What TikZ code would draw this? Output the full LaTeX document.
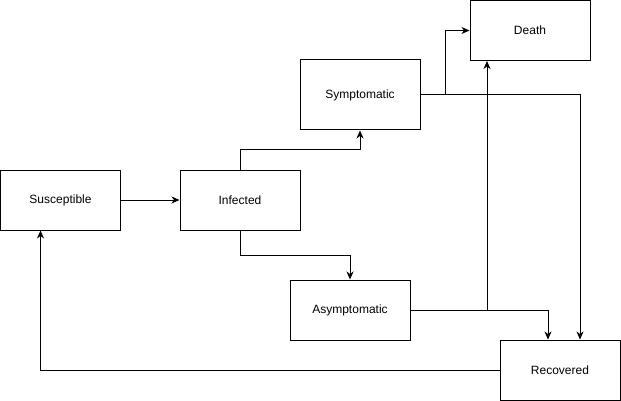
\documentclass[tikz,border=0pt]{standalone}
\usepackage{fontspec}
\setmainfont{Liberation Sans}
\usetikzlibrary{arrows.meta}
\begin{document}
\begin{tikzpicture}[x=1pt,y=-1pt,line width=1pt,
  state/.style={draw,minimum width=120pt,minimum height=60pt,inner sep=0pt,
    font=\fontsize{12}{14}\selectfont},
  flow/.style={-{Stealth[length=8pt,width=7pt,inset=2.5pt]}}]
\useasboundingbox (0,0) rectangle (621,401);

% compartments
\node[state] (sus)   at (60.5,200)  {Susceptible};
\node[state] (inf)   at (240,200)   {Infected};
\node[state,minimum height=70pt] (sym) at (360,95) {Symptomatic};
\node[state] (death) at (530,30.5)  {Death};
\node[state] (asym)  at (350,310)   {Asymptomatic};
\node[state] (rec)   at (560,370)   {Recovered};

% transitions
\draw[flow] (sus) -- (inf);
\draw[flow] (inf.north) -- ++(0,-20) -| (sym.south);
\draw[flow] (inf.south) -- ++(0,25) -| (asym.north);
\draw[flow] (sym.east) -- ++(25,0) |- (death.west);
\draw[flow] (sym.east) -| ([xshift=20pt]rec.north);
\draw[flow] (asym.east) -| ([xshift=-43pt]death.south);
\draw[flow] (asym.east) -| ([xshift=-12pt]rec.north);
\draw[flow] (rec.west) -| ([xshift=-20pt]sus.south);
\end{tikzpicture}
\end{document}
